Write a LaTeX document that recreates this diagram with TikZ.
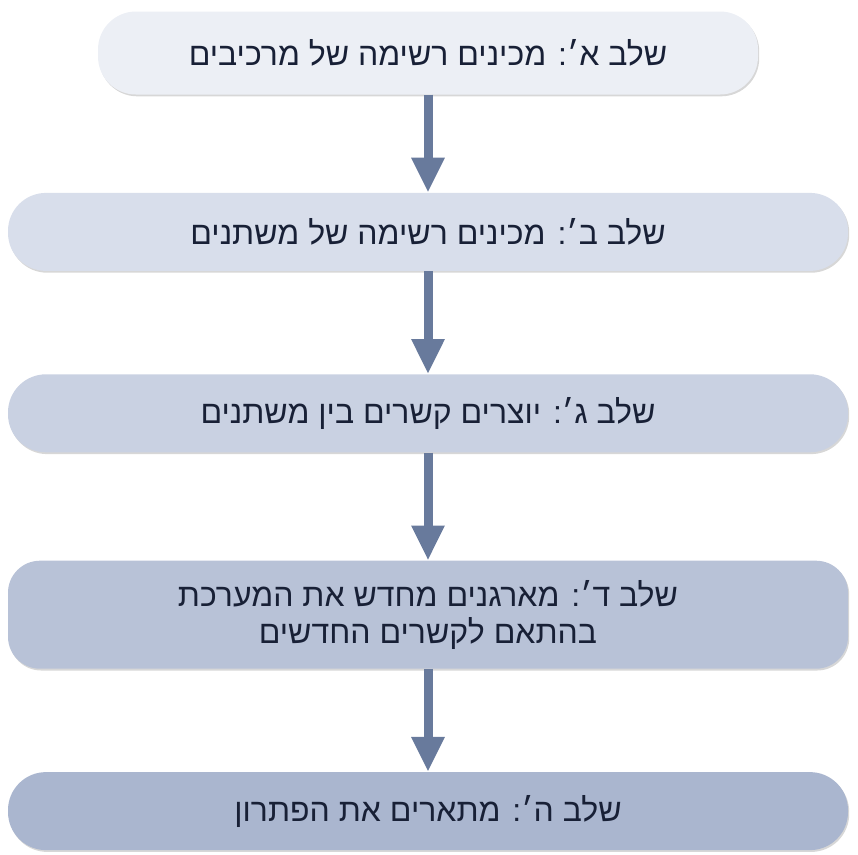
\documentclass[tikz,border=0pt]{standalone}
\usepackage{fontspec}
\usepackage{xcolor}
\usepackage{tikz}
\usetikzlibrary{arrows.meta,positioning,shadows}
\TeXXeTstate=1
\newfontfamily\hebfont[Script=Hebrew]{Liberation Sans}

\definecolor{stepA}{RGB}{236,239,245}
\definecolor{stepB}{RGB}{216,222,235}
\definecolor{stepC}{RGB}{201,209,226}
\definecolor{stepD}{RGB}{184,194,215}
\definecolor{stepE}{RGB}{170,182,207}
\definecolor{arrowblue}{RGB}{104,122,156}
\definecolor{inkblue}{RGB}{24,32,54}

\begin{document}
\begin{tikzpicture}[x=1pt,y=1pt,>=Latex,node distance=103pt,
  every node/.style={font=\hebfont\fontsize{32}{37}\selectfont,align=center,text=inkblue},
  phase/.style={rounded corners=38pt,minimum width=840pt,minimum height=78pt,inner sep=0pt,
    drop shadow={shadow xshift=1.2pt,shadow yshift=-1.8pt,opacity=.35,fill=black!45}},
  flowarrow/.style={arrowblue,line width=9pt,-{Triangle[width=31pt,length=35pt]}}]
\useasboundingbox (0,0) rectangle (858,-854);
\node[phase,fill=stepA,minimum width=660pt,minimum height=83pt] (stageA) at (428,-53) {\beginR שלב א׳: מכינים רשימה של מרכיבים\endR};
\node[phase,fill=stepB,below=98pt of stageA] (stageB) {\beginR שלב ב׳: מכינים רשימה של משתנים\endR};
\node[phase,fill=stepC,below=of stageB] (stageC) {\beginR שלב ג׳: יוצרים קשרים בין משתנים\endR};
\node[phase,fill=stepD,below=108pt of stageC,minimum height=108pt,rounded corners=32pt] (stageD) {\beginR שלב ד׳: מארגנים מחדש את המערכת\endR\\\beginR בהתאם לקשרים החדשים\endR};
\node[phase,fill=stepE,below=of stageD] (stageE) {\beginR שלב ה׳: מתארים את הפתרון\endR};
\draw[flowarrow] (stageA) -- (stageB);
\draw[flowarrow] (stageB) -- (stageC);
\draw[flowarrow] (stageC) -- (stageD);
\draw[flowarrow] (stageD) -- (stageE);
\end{tikzpicture}
\end{document}
